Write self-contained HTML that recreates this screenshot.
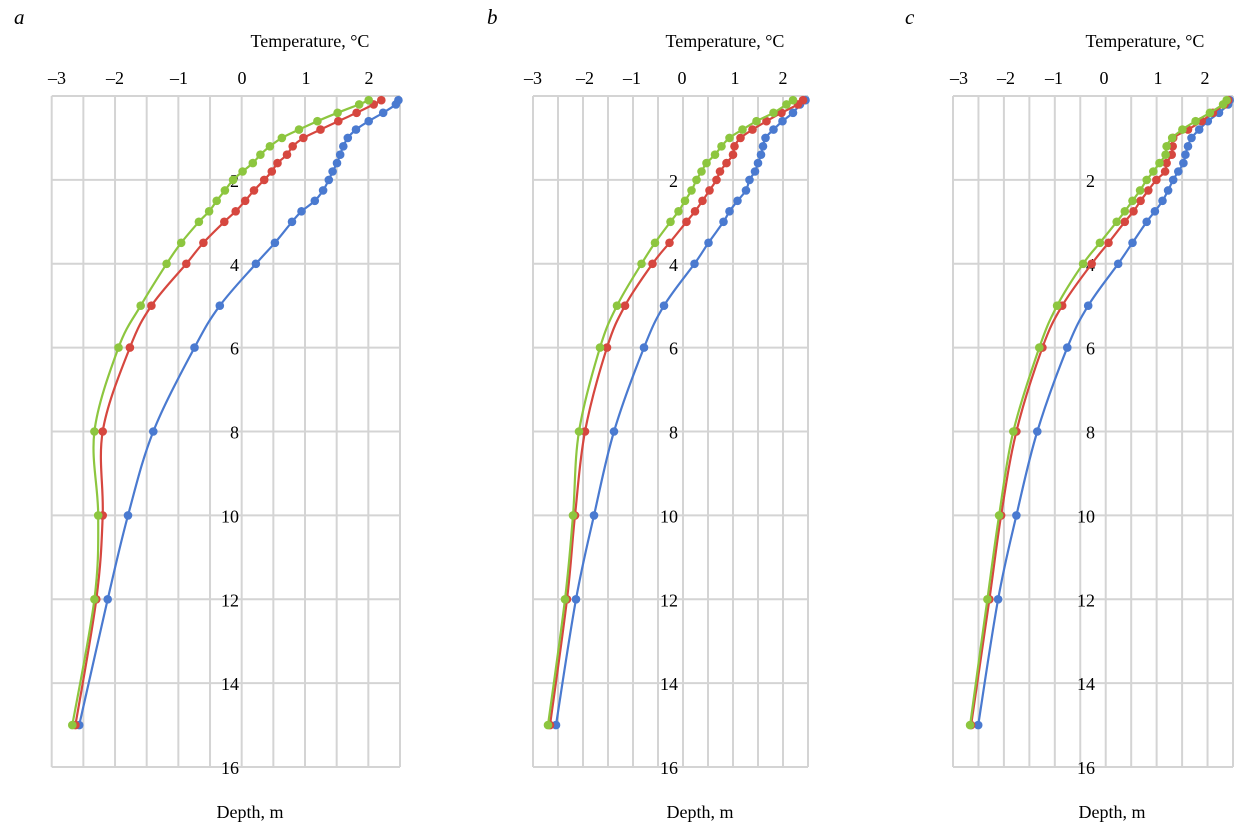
<!DOCTYPE html>
<html><head><meta charset="utf-8">
<style>
body{margin:0;background:#fff;}
svg{display:block;font-family:"Liberation Serif",serif;}
</style></head>
<body>
<svg id="s" width="1252" height="828" xmlns="http://www.w3.org/2000/svg"></svg>
<script>
const D=[0.1,0.2,0.4,0.6,0.8,1.0,1.2,1.4,1.6,1.8,2.0,2.25,2.5,2.75,3.0,3.5,4,5,6,8,10,12,15];
const panels=[
 {L:51.7,R:400,z:242,lab:'a',lx:14,tx:310,dx:250,yr:239,ticks:[[-3,57],[-2,115],[-1,179],[0,242],[1,306],[2,369]],
  blue:[2.47,2.43,2.23,2.0,1.8,1.67,1.6,1.55,1.5,1.43,1.37,1.28,1.15,0.94,0.79,0.52,0.22,-0.35,-0.75,-1.4,-1.8,-2.12,-2.57],
  red:[2.2,2.08,1.81,1.52,1.24,0.97,0.8,0.71,0.56,0.47,0.35,0.19,0.05,-0.1,-0.28,-0.61,-0.88,-1.43,-1.77,-2.2,-2.2,-2.3,-2.63],
  green:[2.0,1.85,1.51,1.19,0.9,0.63,0.44,0.29,0.17,0.01,-0.14,-0.27,-0.4,-0.52,-0.68,-0.96,-1.19,-1.6,-1.95,-2.33,-2.27,-2.33,-2.68]},
 {L:533,R:808,z:683,lab:'b',lx:487,tx:725,dx:700,yr:678,ticks:[[-3,533],[-2,585],[-1,632],[0,682],[1,735],[2,783]],
  blue:[2.45,2.34,2.2,1.99,1.81,1.65,1.6,1.56,1.5,1.44,1.33,1.26,1.09,0.93,0.81,0.51,0.23,-0.38,-0.78,-1.38,-1.78,-2.14,-2.54],
  red:[2.4,2.3,1.97,1.67,1.39,1.15,1.03,1.0,0.87,0.74,0.67,0.53,0.39,0.24,0.07,-0.27,-0.61,-1.16,-1.52,-1.96,-2.16,-2.32,-2.66],
  green:[2.2,2.07,1.81,1.47,1.19,0.93,0.77,0.64,0.47,0.37,0.27,0.17,0.04,-0.09,-0.25,-0.56,-0.83,-1.32,-1.66,-2.08,-2.2,-2.36,-2.7]},
 {L:953,R:1233,z:1106,lab:'c',lx:905,tx:1145,dx:1112,yr:1095,ticks:[[-3,959],[-2,1006],[-1,1054],[0,1104],[1,1158],[2,1205]],
  blue:[2.43,2.4,2.22,2.0,1.83,1.68,1.61,1.56,1.52,1.42,1.32,1.22,1.11,0.96,0.8,0.52,0.24,-0.35,-0.76,-1.35,-1.76,-2.12,-2.51],
  red:[2.4,2.33,2.1,1.88,1.61,1.32,1.31,1.29,1.19,1.16,0.99,0.83,0.68,0.54,0.37,0.05,-0.28,-0.86,-1.25,-1.76,-2.06,-2.29,-2.65],
  green:[2.37,2.3,2.04,1.76,1.5,1.3,1.19,1.17,1.05,0.93,0.8,0.67,0.52,0.37,0.21,-0.12,-0.45,-0.96,-1.31,-1.82,-2.1,-2.33,-2.67]}
];
const T=96,B=767,dy=(B-T)/16;
let h='';
function cr(pts){let d='M'+pts[0][0].toFixed(1)+','+pts[0][1].toFixed(1);
 for(let i=0;i<pts.length-1;i++){const p0=pts[Math.max(0,i-1)],p1=pts[i],p2=pts[i+1],p3=pts[Math.min(pts.length-1,i+2)];
  const t=0.17;
  const c1=[p1[0]+(p2[0]-p0[0])*t,p1[1]+(p2[1]-p0[1])*t],c2=[p2[0]-(p3[0]-p1[0])*t,p2[1]-(p3[1]-p1[1])*t];
  d+=' C'+c1.map(v=>v.toFixed(1))+' '+c2.map(v=>v.toFixed(1))+' '+p2.map(v=>v.toFixed(1));}
 return d;}
for(const p of panels){
 const sc=(p.R-p.L)/5.5;
 for(let i=0;i<=11;i++){const x=p.L+i*(p.R-p.L)/11;h+=`<line x1="${x}" y1="${T}" x2="${x}" y2="${B}" stroke="#d4d4d4" stroke-width="2"/>`;}
 for(let i=0;i<=8;i++){const y=T+i*2*dy;h+=`<line x1="${p.L}" y1="${y}" x2="${p.R}" y2="${y}" stroke="#d4d4d4" stroke-width="2"/>`;}
 h+=`<text x="${p.lx}" y="24" font-size="21" font-style="italic">${p.lab}</text>`;
 h+=`<text x="${p.tx}" y="47" font-size="18" text-anchor="middle">Temperature, °C</text>`;
 for(const [v,x] of p.ticks) h+=`<text x="${x}" y="84" font-size="18" text-anchor="middle">${v<0?'\u2013'+(-v):v}</text>`;
 for(let i=1;i<=8;i++){const y=T+i*2*dy;h+=`<text x="${p.yr}" y="${y+7}" font-size="18" text-anchor="end">${i*2}</text>`;}
 h+=`<text x="${p.dx}" y="818" font-size="18" text-anchor="middle">Depth, m</text>`;
 for(const [k,c] of [['blue','#4a7ad0'],['red','#d6473f'],['green','#8dc63f']]){
  const pts=p[k].map((v,i)=>[p.z+v*sc,T+D[i]*dy]);
  h+=`<path d="${cr(pts)}" fill="none" stroke="${c}" stroke-width="2.2"/>`;
  for(const q of pts) h+=`<circle cx="${q[0].toFixed(1)}" cy="${q[1].toFixed(1)}" r="4.3" fill="${c}"/>`;
 }
}
document.getElementById('s').innerHTML=h;
</script>
</body></html>
